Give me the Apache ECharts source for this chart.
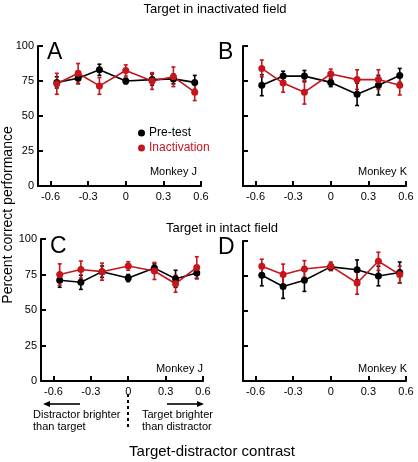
<!DOCTYPE html>
<html><head><meta charset="utf-8">
<script src="https://cdn.jsdelivr.net/npm/echarts@6/dist/echarts.min.js"></script>
<style>html,body{margin:0;padding:0;background:#fff}#c{width:418px;height:462px}</style>
</head><body><div id="c"></div>
<script>
// ---- data ----
const contrasts = [-0.55, -0.38, -0.21, 0, 0.21, 0.38, 0.55];
const xTicks = [-0.6, -0.3, 0, 0.3, 0.6];
const yTicks = [0, 25, 50, 75, 100];
const seriesNames = ['Pre-test', 'Inactivation'];
const panelLetters = ['A', 'B', 'C', 'D'];
const monkeys = ['Monkey J', 'Monkey K', 'Monkey J', 'Monkey K'];
const fieldTitles = ['Target in inactivated field', 'Target in intact field'];

const A_pre = [74, 77, 83, 75, 76, 76.5, 74];
const A_preErr = [4, 4, 4, 2, 4, 3.5, 5];
const A_inact = [73, 80.5, 71.5, 82.5, 75, 78, 67];
const A_inactErr = [7.5, 7, 6, 4, 6, 7, 6];

const B_pre = [72, 78.5, 78.5, 74, 65.5, 72, 79];
const B_preErr = [7.5, 3.5, 4, 3, 8, 7, 5];
const B_inact = [84, 73.5, 67, 80, 76, 76, 72];
const B_inactErr = [6, 6.5, 8.5, 3.5, 7, 7, 7];

const C_pre = [71, 69.5, 77, 72.5, 79.5, 72, 76];
const C_preErr = [5, 5, 4, 2.5, 3, 6, 4];
const C_inact = [75, 78.5, 77, 81, 77.5, 68.5, 80];
const C_inactErr = [7.5, 6, 6, 3, 6, 6, 7.5];

const D_pre = [75.5, 67.5, 72, 81.5, 79.5, 75, 77.5];
const D_preErr = [7.5, 8.5, 8, 2.5, 7, 7, 7.5];
const D_inact = [82, 76, 80, 82, 70, 85.5, 76];
const D_inactErr = [5, 7.5, 6, 3, 8, 6.5, 6];

const panels = [
  {pre: A_pre, preErr: A_preErr, inact: A_inact, inactErr: A_inactErr},
  {pre: B_pre, preErr: B_preErr, inact: B_inact, inactErr: B_inactErr},
  {pre: C_pre, preErr: C_preErr, inact: C_inact, inactErr: C_inactErr},
  {pre: D_pre, preErr: D_preErr, inact: D_inact, inactErr: D_inactErr}
];

// ---- style / layout ----
const RED = '#c4161c';
const BLACK = '#000000';
const FONT = 'Liberation Sans, Arial, Helvetica, sans-serif';
const grids = [
  {left: 38, top: 46, width: 163, height: 140},
  {left: 243, top: 46, width: 163, height: 140},
  {left: 41, top: 239, width: 162, height: 142},
  {left: 243, top: 241, width: 163, height: 140}
];

const chart = echarts.init(document.getElementById('c'), null, {renderer: 'canvas'});

function errRender(color) {
  return function (params, api) {
    const x = api.value(0);
    const lo = api.coord([x, api.value(1)]);
    const hi = api.coord([x, api.value(2)]);
    const cap = 2;
    const st = {stroke: color, lineWidth: 1.6};
    return {type: 'group', children: [
      {type: 'line', shape: {x1: lo[0], y1: lo[1], x2: hi[0], y2: hi[1]}, style: st},
      {type: 'line', shape: {x1: lo[0]-cap, y1: lo[1], x2: lo[0]+cap, y2: lo[1]}, style: st},
      {type: 'line', shape: {x1: hi[0]-cap, y1: hi[1], x2: hi[0]+cap, y2: hi[1]}, style: st}
    ]};
  };
}

const xAxes = [], yAxes = [], series = [];
grids.forEach((g, i) => {
  xAxes.push({
    gridIndex: i, type: 'value', min: -0.7, max: 0.6,
    axisLine: {onZero: false, lineStyle: {color: '#000', width: 2}},
    axisTick: {inside: true, length: 5, customValues: xTicks, lineStyle: {color: '#000', width: 2}},
    axisLabel: {customValues: xTicks, color: '#000', fontSize: 11, fontFamily: FONT, margin: 5,
      formatter: v => (Math.round(v * 10) / 10).toString()},
    splitLine: {show: false}
  });
  yAxes.push({
    gridIndex: i, type: 'value', min: 0, max: 100, interval: 25,
    axisLine: {show: true, onZero: false, lineStyle: {color: '#000', width: 2}},
    axisTick: {show: true, inside: true, length: 5, lineStyle: {color: '#000', width: 2}},
    axisLabel: {show: i === 0 || i === 2, color: '#000', fontSize: 11, fontFamily: FONT, margin: 4},
    splitLine: {show: false}
  });
  const p = panels[i];
  const mk = (name, vals, errs, color) => {
    series.push({
      type: 'custom', xAxisIndex: i, yAxisIndex: i, silent: true,
      renderItem: errRender(color),
      encode: {x: 0, y: [1, 2]},
      data: contrasts.map((x, k) => [x, vals[k] - errs[k], vals[k] + errs[k]]),
      z: 2
    });
    series.push({
      name: name, type: 'line', xAxisIndex: i, yAxisIndex: i,
      data: contrasts.map((x, k) => [x, vals[k]]),
      symbol: 'circle', symbolSize: 7,
      lineStyle: {color: color, width: 1.6},
      itemStyle: {color: color},
      animation: false, z: 3
    });
  };
  mk(seriesNames[0], p.pre, p.preErr, BLACK);
  mk(seriesNames[1], p.inact, p.inactErr, RED);
});

const txt = (x, y, text, size, extra) => Object.assign({
  type: 'text', x: x, y: y,
  style: Object.assign({text: text, font: size + 'px ' + FONT, fill: '#000'}, extra || {})
});

const graphics = [
  txt(215, 9, fieldTitles[0], 13, {textAlign: 'center', textVerticalAlign: 'middle'}),
  txt(222, 228, fieldTitles[1], 13, {textAlign: 'center', textVerticalAlign: 'middle'}),
  txt(212, 452, 'Target-distractor contrast', 15, {textAlign: 'center', textVerticalAlign: 'middle'}),
  {type: 'text', x: 8, y: 215, rotation: Math.PI / 2,
   style: {text: 'Percent correct performance', font: '14px ' + FONT, fill: '#000', textAlign: 'center', textVerticalAlign: 'middle'}},
  txt(47, 53, panelLetters[0], 23, {textVerticalAlign: 'middle'}),
  txt(218, 53, panelLetters[1], 23, {textVerticalAlign: 'middle'}),
  txt(50, 247, panelLetters[2], 23, {textVerticalAlign: 'middle'}),
  txt(218, 248, panelLetters[3], 23, {textVerticalAlign: 'middle'}),
  txt(197, 172, monkeys[0], 11, {textAlign: 'right', textVerticalAlign: 'middle'}),
  txt(407, 172, monkeys[1], 11, {textAlign: 'right', textVerticalAlign: 'middle'}),
  txt(203, 369, monkeys[2], 11, {textAlign: 'right', textVerticalAlign: 'middle'}),
  txt(407, 369, monkeys[3], 11, {textAlign: 'right', textVerticalAlign: 'middle'}),
  txt(33, 415, 'Distractor brighter', 11, {textVerticalAlign: 'middle'}),
  txt(33, 427, 'than target', 11, {textVerticalAlign: 'middle'}),
  txt(142, 415, 'Target brighter', 11, {textVerticalAlign: 'middle'}),
  txt(142, 427, 'than distractor', 11, {textVerticalAlign: 'middle'}),
  {type: 'line', shape: {x1: 48, y1: 404, x2: 80, y2: 404}, style: {stroke: '#000', lineWidth: 1.6}},
  {type: 'polygon', shape: {points: [[43, 404], [50, 401], [50, 407]]}, style: {fill: '#000'}},
  {type: 'line', shape: {x1: 167, y1: 404, x2: 198, y2: 404}, style: {stroke: '#000', lineWidth: 1.6}},
  {type: 'polygon', shape: {points: [[204, 404], [197, 401], [197, 407]]}, style: {fill: '#000'}},
  {type: 'line', shape: {x1: 128, y1: 394, x2: 128, y2: 428}, style: {stroke: '#000', lineWidth: 2, lineDash: [3, 3]}}
];

chart.setOption({
  animation: false,
  backgroundColor: '#fff',
  grid: grids,
  xAxis: xAxes,
  yAxis: yAxes,
  legend: {
    left: 133, top: 122, orient: 'vertical', itemGap: 3,
    icon: 'circle', itemWidth: 7, itemHeight: 7, selectedMode: false,
    textStyle: {fontSize: 12, fontFamily: FONT, padding: [0, 0, 0, -1]},
    data: [
      {name: seriesNames[0], textStyle: {color: BLACK}},
      {name: seriesNames[1], textStyle: {color: RED}}
    ]
  },
  series: series,
  graphic: graphics
});
</script></body></html>
